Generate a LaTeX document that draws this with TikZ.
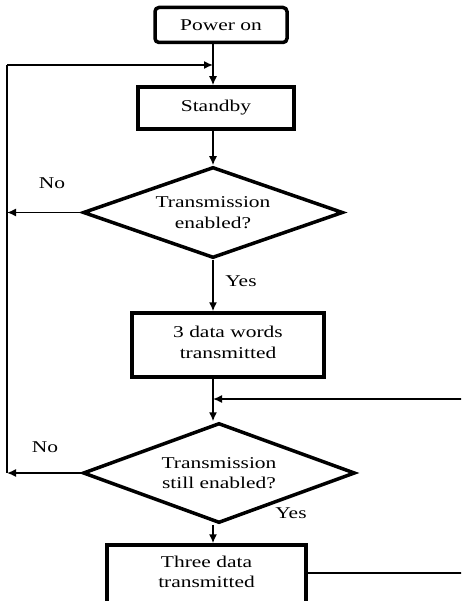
\documentclass[tikz,border=0pt]{standalone}
\usepackage{fontspec}
\setmainfont{Liberation Serif}
\newfontfamily\widefont[FakeStretch=1.3]{Liberation Serif}
\usetikzlibrary{shapes.geometric,arrows.meta}
\begin{document}
\begin{tikzpicture}[x=1pt,y=-1pt,
  thinline/.style={line width=1.5pt},
  arr/.style={thinline,-{Latex[length=9pt,width=8pt]}},
  txt/.style={align=center,font=\widefont\fontsize{16.5}{20.5}\selectfont},
  procbox/.style={draw,line width=3.5pt,txt},
  decision/.style={draw,diamond,line width=3.5pt,inner sep=0pt},
  lbl/.style={txt}]
\useasboundingbox (0,0) rectangle (461,601);
\clip (0,0) rectangle (461,601);

% start and process boxes
\node[procbox,rounded corners=4pt,minimum width=132pt,minimum height=35pt] (power) at (221,25) {Power on};
\node[procbox,minimum width=156pt,minimum height=42pt] (standby) at (216,108) {Standby};
\node[decision,minimum width=260pt,minimum height=91pt] (dec1) at (213,212.5) {};
\node[txt] (dec1text) at (dec1.center) {Transmission\\enabled?};
\node[procbox,minimum width=192pt,minimum height=64pt] (words) at (228,345) {};
\node[txt] (wordstext) at (228,342.5) {3 data words\\transmitted};
\node[decision,minimum width=272pt,minimum height=100pt] (dec2) at (219,473) {};
\node[txt] (dec2text) at (dec2.center) {Transmission\\still enabled?};
% the last box runs on past the lower edge
\node[procbox,minimum width=199pt,minimum height=70pt] (three) at (206.5,580) {};
\node[txt] (threetext) at (206.5,572) {Three data\\transmitted};

% side rail and return points
\coordinate (railtop) at (7,65);
\coordinate (joinA) at (213,65);
\coordinate (joinB) at (213,399);
\coordinate (rightin) at (463,399);
\coordinate (rightout) at (463,573);
\coordinate (rail1) at (7,212.5);
\coordinate (rail2) at (7,473);

% main flow
\draw[thinline] (power.south -| joinA) -- (joinA);
\draw[arr] (joinA) -- (joinA |- standby.north);
\draw[arr] (standby.south -| dec1.north) -- (dec1.north);
\draw[arr] (dec1.south) -- (dec1.south |- words.north);
\draw[arr] (words.south -| joinB) -- (joinB |- dec2.north);
\draw[arr] (dec2.south -| joinB) -- (joinB |- three.north);

% loops
\draw[arr] (railtop) -- (joinA);
\draw[thinline] (railtop) -- (rail2);
\draw[arr] (dec1.west) -- (rail1);
\draw[arr] (dec2.west) -- (rail2);
\draw[arr] (rightin) -- (joinB);
\draw[thinline] (three.east |- rightout) -- (rightout);

% labels
\node[lbl] (no1) at (52,183) {No};
\node[lbl] (yes1) at (241,281) {Yes};
\node[lbl] (no2) at (45,447) {No};
\node[lbl] (yes2) at (291,513) {Yes};
\end{tikzpicture}
\end{document}
